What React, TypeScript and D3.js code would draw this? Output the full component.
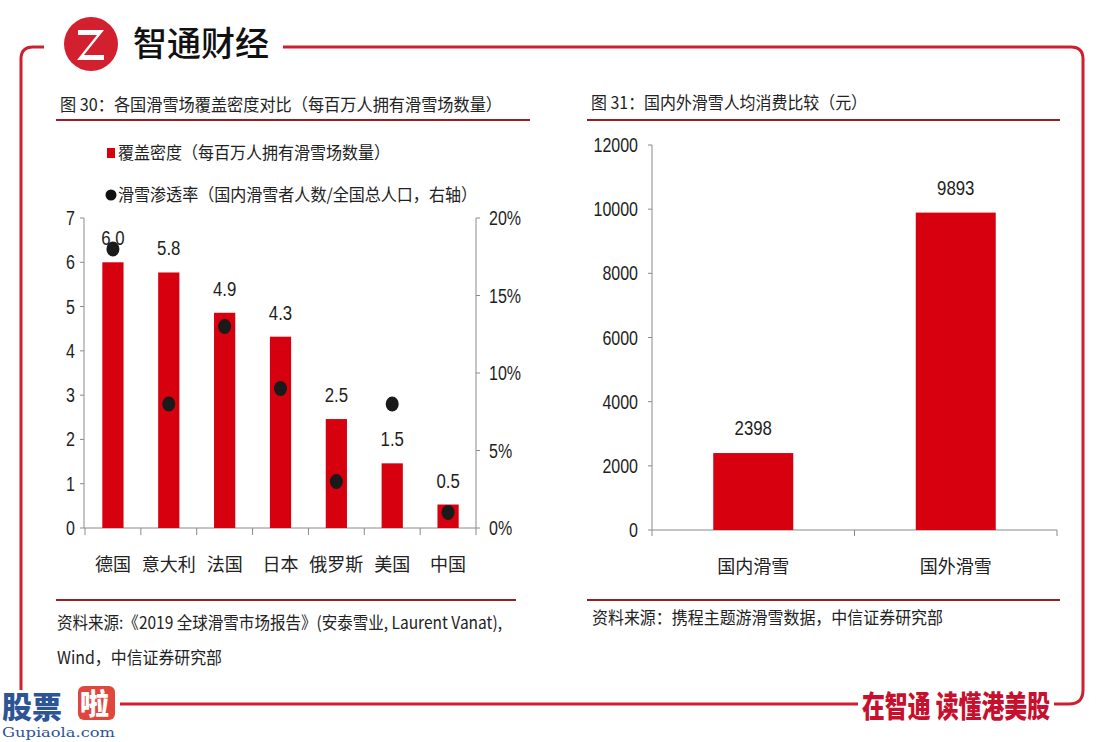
import React from 'react';
import * as d3 from 'd3';

const countries = ['德国', '意大利', '法国', '日本', '俄罗斯', '美国', '中国'];
const density = [6.0, 5.77, 4.86, 4.32, 2.46, 1.46, 0.53];
const penetration = [0.18, 0.08, 0.13, 0.09, 0.03, 0.08, 0.01];
const leftTicks = [0, 1, 2, 3, 4, 5, 6, 7];
const rightTicks = [0, 0.05, 0.1, 0.15, 0.2];

const spendCats = ['国内滑雪', '国外滑雪'];
const spend = [2398, 9893];
const spendTicks = [0, 2000, 4000, 6000, 8000, 10000, 12000];

const CJK = '"Noto Sans CJK SC", "Noto Sans", sans-serif';
const NUM = '"Liberation Sans", Arial, sans-serif';
const RED = '#d7000f';
const FRAME = '#cf1f2e';
const AXIS = '#8a8a8a';

function Num({ x, y, anchor, size, children }: { x: number; y: number; anchor: string; size: number; children: any }) {
  return (
    <text
      transform={`translate(${x},${y}) scale(0.8,1)`}
      textAnchor={anchor}
      fontFamily={NUM}
      fontSize={size}
      fill="#1e1e1e"
    >
      {children}
    </text>
  );
}

export default function App() {
  // left chart
  const xL = d3.scaleBand<string>().domain(countries).range([85, 476]).padding(0);
  const bwL = xL.bandwidth();
  const barWL = bwL * 0.38;
  const yL = d3.scaleLinear().domain([0, 7]).range([528, 218]);
  const yR = d3.scaleLinear().domain([0, 0.2]).range([528, 218]);
  const fmt1 = d3.format('.1f');
  const fmtPct = d3.format('.0%');

  // right chart
  const xS = d3.scaleBand<string>().domain(spendCats).range([652, 1057]).padding(0);
  const bwS = xS.bandwidth();
  const barWS = bwS * 0.395;
  const yS = d3.scaleLinear().domain([0, 12000]).range([530, 145]);

  const boundariesL = [...countries.map((c) => xL(c)!), 476];
  const boundariesS = [...spendCats.map((c) => xS(c)!), 1057];

  return (
    <svg width={1110} height={742} style={{ position: 'absolute', left: 0, top: 0, background: '#fff' }}>
      <rect x={0} y={0} width={1110} height={742} fill="#fff" />
      {/* frame */}
      <path d="M 44 47 H 33 Q 21 47 21 59 V 690" fill="none" stroke={FRAME} strokeWidth={3} />
      <path d="M 283 47 H 1071 Q 1083 47 1083 59 V 690 Q 1083 704 1069 704 H 1054" fill="none" stroke={FRAME} strokeWidth={3} />
      <path d="M 120 704 H 858" fill="none" stroke={FRAME} strokeWidth={3} />
      {/* logo */}
      <circle cx={91} cy={44} r={27} fill="#d2202f" />
      <path d="M 78 30 H 104 L 84 55 H 104 V 60 H 77 L 97 35 H 78 Z" fill="#fff" />
      <text x={133} y={56} fontFamily={CJK} fontSize={34} fontWeight={500} fill="#111">智通财经</text>
      <text x={862} y={717} fontFamily={CJK} fontSize={30} fontWeight={900} fill="#c8102e" textLength={188} lengthAdjust="spacingAndGlyphs">在智通 读懂港美股</text>
      {/* bottom-left logo */}
      <text x={2} y={718} fontFamily={CJK} fontSize={30} fontWeight={900} fill="#2d5496">股票</text>
      <rect x={78} y={686} width={37} height={34} rx={6} fill="#e0463c" />
      <text x={80} y={715} fontFamily={CJK} fontSize={29} fontWeight={900} fill="#fff">啦</text>
      <text x={2} y={737} fontFamily='"DejaVu Serif", serif' fontSize={13} fill="#2d5496" textLength={113} lengthAdjust="spacingAndGlyphs">Gupiaola.com</text>

      {/* ===== left panel ===== */}
      <text x={60} y={111} fontFamily={CJK} fontSize={17} fill="#222" textLength={442} lengthAdjust="spacingAndGlyphs">图 30：各国滑雪场覆盖密度对比（每百万人拥有滑雪场数量）</text>
      <line x1={56} x2={530} y1={120} y2={120} stroke="#9b1c22" strokeWidth={2} />
      <rect x={107} y={148} width={8} height={10} fill={RED} />
      <text x={118} y={159} fontFamily={CJK} fontSize={17} fill="#222" textLength={272} lengthAdjust="spacingAndGlyphs">覆盖密度（每百万人拥有滑雪场数量）</text>
      <circle cx={111} cy={195} r={5.5} fill="#111" />
      <text x={118} y={201} fontFamily={CJK} fontSize={17} fill="#222" textLength={359} lengthAdjust="spacingAndGlyphs">滑雪渗透率（国内滑雪者人数/全国总人口，右轴）</text>

      {/* left axes */}
      <line x1={84} x2={84} y1={218} y2={528} stroke={AXIS} strokeWidth={1} />
      {leftTicks.map((t) => (
        <g key={'lt' + t}>
          <line x1={80} x2={84} y1={yL(t)} y2={yL(t)} stroke={AXIS} />
          <Num x={75} y={yL(t) + 7} anchor="end" size={20}>{t}</Num>
        </g>
      ))}
      <line x1={476} x2={476} y1={218} y2={528} stroke={AXIS} strokeWidth={1} />
      {rightTicks.map((t) => (
        <g key={'rt' + t}>
          <line x1={476} x2={480} y1={yR(t)} y2={yR(t)} stroke={AXIS} />
          <Num x={489} y={yR(t) + 7} anchor="start" size={20}>{fmtPct(t)}</Num>
        </g>
      ))}
      <line x1={84} x2={476} y1={528} y2={528} stroke={AXIS} strokeWidth={1} />
      {boundariesL.map((b, i) => (
        <line key={'bl' + i} x1={b} x2={b} y1={528} y2={535} stroke={AXIS} />
      ))}
      {countries.map((c, i) => (
        <g key={'bar' + c}>
          <rect x={xL(c)! + (bwL - barWL) / 2} y={yL(density[i])} width={barWL} height={yL(0) - yL(density[i])} fill={RED} />
          <Num x={xL(c)! + bwL / 2} y={yL(density[i]) - 17} anchor="middle" size={21}>{fmt1(density[i])}</Num>
          <text x={xL(c)! + bwL / 2} y={571} textAnchor="middle" fontFamily={CJK} fontSize={18} fill="#222">{c}</text>
        </g>
      ))}
      {countries.map((c, i) => (
        <ellipse key={'dot' + c} cx={xL(c)! + bwL / 2} cy={yR(penetration[i])} rx={6.5} ry={7.5} fill="#1a1a1a" />
      ))}
      <line x1={56} x2={516} y1={600} y2={600} stroke="#9b1c22" strokeWidth={2} />
      <text x={57} y={629} fontFamily={CJK} fontSize={17} fill="#222" textLength={445} lengthAdjust="spacingAndGlyphs">资料来源:《2019 全球滑雪市场报告》(安泰雪业, Laurent Vanat),</text>
      <text x={57} y={664} fontFamily={CJK} fontSize={17} fill="#222" textLength={165} lengthAdjust="spacingAndGlyphs">Wind，中信证券研究部</text>

      {/* ===== right panel ===== */}
      <text x={591} y={109} fontFamily={CJK} fontSize={17} fill="#222" textLength={276} lengthAdjust="spacingAndGlyphs">图 31：国内外滑雪人均消费比较（元）</text>
      <line x1={587} x2={1060} y1={120} y2={120} stroke="#9b1c22" strokeWidth={2} />
      <line x1={652} x2={652} y1={145} y2={530} stroke={AXIS} strokeWidth={1} />
      {spendTicks.map((t) => (
        <g key={'st' + t}>
          <line x1={648} x2={652} y1={yS(t)} y2={yS(t)} stroke={AXIS} />
          <Num x={638} y={yS(t) + 7} anchor="end" size={20}>{t}</Num>
        </g>
      ))}
      <line x1={652} x2={1057} y1={530} y2={530} stroke={AXIS} strokeWidth={1} />
      {boundariesS.map((b, i) => (
        <line key={'bs' + i} x1={b} x2={b} y1={530} y2={536} stroke={AXIS} />
      ))}
      {spendCats.map((c, i) => (
        <g key={'sb' + c}>
          <rect x={xS(c)! + (bwS - barWS) / 2} y={yS(spend[i])} width={barWS} height={yS(0) - yS(spend[i])} fill={RED} />
          <Num x={xS(c)! + bwS / 2} y={yS(spend[i]) - 18} anchor="middle" size={21}>{spend[i]}</Num>
          <text x={xS(c)! + bwS / 2} y={573} textAnchor="middle" fontFamily={CJK} fontSize={18} fill="#222">{c}</text>
        </g>
      ))}
      <line x1={587} x2={1060} y1={600} y2={600} stroke="#9b1c22" strokeWidth={2} />
      <text x={592} y={624} fontFamily={CJK} fontSize={17} fill="#222" textLength={351} lengthAdjust="spacingAndGlyphs">资料来源：携程主题游滑雪数据，中信证券研究部</text>
    </svg>
  );
}
